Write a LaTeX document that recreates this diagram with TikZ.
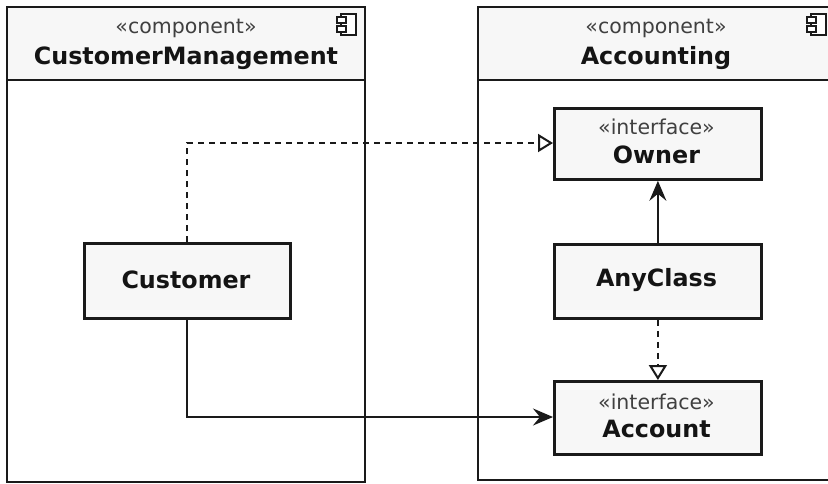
\documentclass[tikz,border=0pt]{standalone}
\usepackage{fontspec}
\setmainfont{DejaVu Sans}
\usetikzlibrary{arrows.meta}
\definecolor{boxfill}{HTML}{F7F7F7}
\definecolor{linec}{HTML}{1A1A1A}
\tikzset{
  comp/.style={draw=linec, line width=2.8pt, fill=white},
  comphead/.style={draw=linec, line width=2.8pt, fill=boxfill},
  cls/.style={draw=linec, line width=2.8pt, fill=boxfill, minimum width=207pt, minimum height=73pt, inner sep=0pt, anchor=north west, align=center},
  stereo/.style={font=\fontsize{20.5}{24}\selectfont, text=black!75},
  cname/.style={font=\fontsize{23.8}{28}\selectfont\bfseries, text=black!92},
  conn/.style={draw=linec, line width=2pt},
  dep/.style={conn, dash pattern=on 6pt off 5pt},
  realiz/.style={-{Triangle[open, length=15pt, width=18pt, line width=2pt]}},
  assoc/.style={-{Stealth[length=20pt, width=17pt, inset=7pt]}},
  icon/.style={draw=linec, line width=1.6pt, fill=white}
}
\begin{document}
\begin{tikzpicture}[x=1pt, y=-1pt]
\useasboundingbox (0,0) rectangle (828,483);
% Left component
\path[comp] (7,7) rectangle (365,482);
\path[comphead] (7,7) rectangle (365,80);
\node[stereo] (cmst) at (186,28) {«component»};
\node[cname] (cmname) at (186,58) {CustomerManagement};
\path[icon] (341,14) rectangle (356,35);
\path[icon] (337,17) rectangle (346,23);
\path[icon] (337,26) rectangle (346,32);
% Right component
\path[comp] (478,7) rectangle (840,480);
\path[comphead] (478,7) rectangle (840,80);
\node[stereo] (acst) at (656,28) {«component»};
\node[cname] (acname) at (656,58) {Accounting};
\path[icon] (811,14) rectangle (826,35);
\path[icon] (807,17) rectangle (816,23);
\path[icon] (807,26) rectangle (816,32);
% Classes
\node[cls, minimum height=71pt] (owner) at (553,107) {};
\node[stereo] at (656.5,127) {«interface»};
\node[cname] at (656.5,155) {Owner};
\node[cls, minimum height=74pt] (anyclass) at (553,243) {};
\node[cname] at (656.5,280) {AnyClass};
\node[cls, minimum height=73pt] (account) at (553,380) {};
\node[stereo] at (656.5,402) {«interface»};
\node[cname] at (656.5,429) {Account};
\node[cls, minimum width=206pt, minimum height=75pt] (customer) at (83,242) {};
\node[cname] at (186,280) {Customer};
% Connectors
\coordinate (c1) at (186,143);
\coordinate (c2) at (186,417);
\draw[dep, realiz] (customer.north) -- (customer.north |- c1) -- (c1 -| owner.west);
\draw[conn, assoc] (customer.south) -- (customer.south |- c2) -- (c2 -| account.west);
\draw[conn, assoc] (anyclass.north) -- (owner.south);
\draw[dep, realiz] (anyclass.south) -- (account.north);
\end{tikzpicture}
\end{document}
